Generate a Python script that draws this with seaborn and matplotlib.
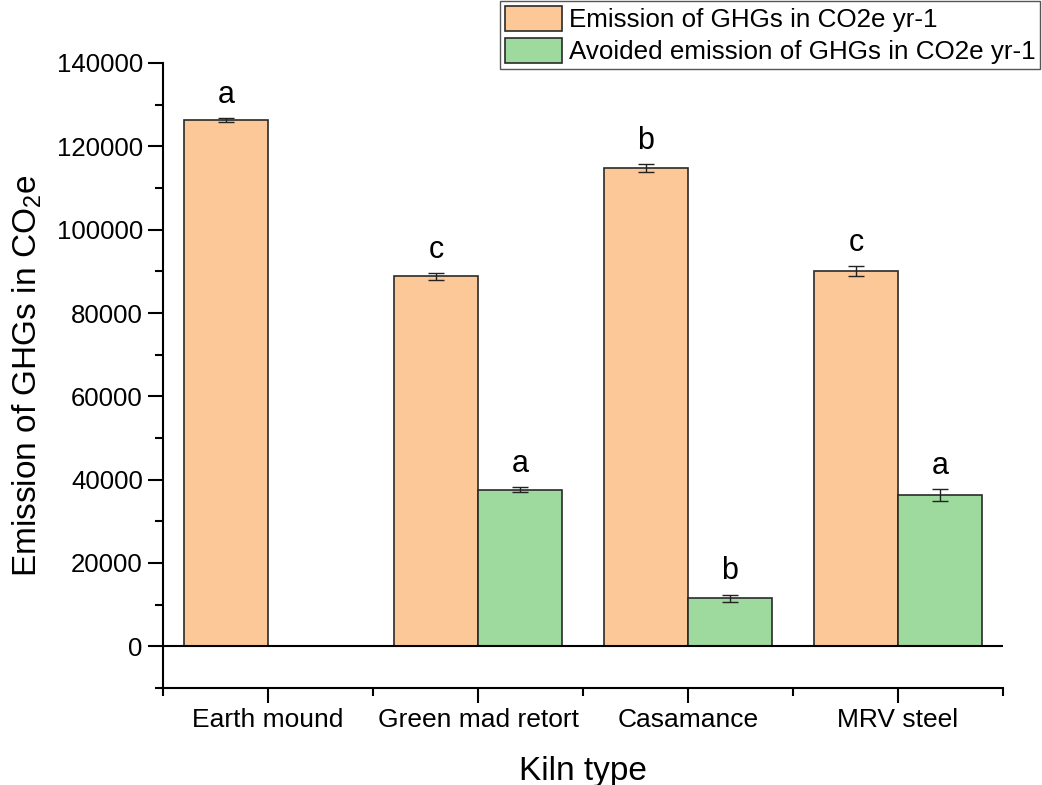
import matplotlib.pyplot as plt
from matplotlib.ticker import MultipleLocator, FixedLocator
import seaborn as sns
import pandas as pd

# kiln types and the two series
kilns = ['Earth mound', 'Green mad retort', 'Casamance', 'MRV steel']
series = ['Emission of GHGs in CO2e yr-1', 'Avoided emission of GHGs in CO2e yr-1']
emission = [126300, 88800, 114800, 90000]
emission_err = [500, 800, 900, 1200]
avoided = [0, 37600, 11500, 36300]
avoided_err = [0, 600, 900, 1500]
emission_letters = ['a', 'c', 'b', 'c']
avoided_letters = ['', 'a', 'b', 'a']

df = pd.DataFrame({
    'kiln': kilns * 2,
    'value': emission + avoided,
    'series': [series[0]] * len(kilns) + [series[1]] * len(kilns),
})

sns.set_style('ticks')
plt.rcParams['font.family'] = ['Liberation Sans', 'DejaVu Sans']
plt.rcParams['mathtext.fontset'] = 'custom'
plt.rcParams['mathtext.rm'] = 'Liberation Sans'
plt.rcParams['mathtext.it'] = 'Liberation Sans:italic'
for key in ['text.color', 'axes.labelcolor', 'xtick.color', 'ytick.color', 'axes.edgecolor']:
    plt.rcParams[key] = 'black'

fig = plt.figure(figsize=(10.42, 7.85), dpi=100)
ax = fig.add_axes([163 / 1042, 1 - 688 / 785, (1003 - 163) / 1042, (688 - 63) / 785])

sns.barplot(data=df, x='kiln', y='value', hue='series', hue_order=series,
            palette=['#FCC898', '#9ED99D'], saturation=1, edgecolor='#2a2a2a',
            linewidth=1.2, width=0.8, errorbar=None, ax=ax)

# error bars and significance letters
for bars, vals, errs, letters in zip(ax.containers,
                                     [emission, avoided],
                                     [emission_err, avoided_err],
                                     [emission_letters, avoided_letters]):
    for bar, v, e, letter in zip(bars, vals, errs, letters):
        if v == 0:
            continue
        x = bar.get_x() + bar.get_width() / 2
        ax.errorbar(x, v, yerr=e, color='#222222', capsize=6, elinewidth=1, capthick=1)
        ax.annotate(letter, (x, v + e), xytext=(0, 11), textcoords='offset points',
                    ha='center', va='baseline', fontsize=22)

ax.axhline(0, color='black', lw=1.5, zorder=3)

ax.set_xlim(-0.5, 3.5)
ax.set_ylim(-10000, 140000)
ax.yaxis.set_major_locator(FixedLocator(range(0, 140001, 20000)))
ax.yaxis.set_minor_locator(FixedLocator(range(-10000, 140001, 10000)))
ax.xaxis.set_minor_locator(MultipleLocator(1, offset=0.5))

sns.despine(ax=ax)
for side in ['left', 'bottom']:
    ax.spines[side].set_linewidth(1.5)
ax.tick_params(which='major', length=11, width=1.5, labelsize=18.5, direction='out')
ax.tick_params(axis='x', which='major', labelsize=19)
ax.tick_params(which='minor', length=6, width=1.5, direction='out')

ax.set_xlabel('Kiln type', fontsize=24, labelpad=17)
ax.set_ylabel('Emission of GHGs in CO$_2$e', fontsize=24, labelpad=9)

handles, labels = ax.get_legend_handles_labels()
ax.get_legend().remove()
fig.legend(handles, labels, loc='upper right', bbox_to_anchor=(1040 / 1042, 1 - 1 / 785),
           fontsize=18.7, frameon=True, fancybox=False, edgecolor='#555555',
           framealpha=1, handlelength=2.2, handleheight=1.15, labelspacing=0.2,
           handletextpad=0.25, borderpad=0.18, borderaxespad=0)

fig.savefig('out.png', dpi=100)
